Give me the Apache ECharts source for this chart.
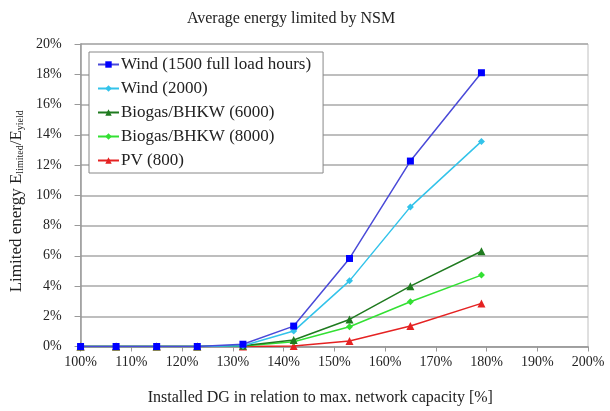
<!DOCTYPE html>
<html>
<head>
<meta charset="utf-8">
<script src="https://cdn.jsdelivr.net/npm/echarts@6/dist/echarts.min.js"></script>
<style>html,body{margin:0;padding:0;background:#fff}#c{width:610px;height:411px}</style>
</head>
<body>
<div id="c"></div>
<script>
var xValues = [100, 107, 115, 123, 132, 142, 153, 165, 179];
var seriesNames = ['Wind (1500 full load hours)', 'Wind (2000)', 'Biogas/BHKW (6000)', 'Biogas/BHKW (8000)', 'PV (800)'];
var wind1500 = [0, 0, 0, 0, 0.15, 1.35, 5.82, 12.26, 18.1];
var wind2000 = [0, 0, 0, 0, 0.05, 1.02, 4.34, 9.23, 13.56];
var biogas6000 = [0, 0, 0, 0, 0.05, 0.43, 1.79, 3.99, 6.3];
var biogas8000 = [0, 0, 0, 0, 0.03, 0.32, 1.31, 2.96, 4.72];
var pv800 = [0, 0, 0, 0, 0, 0.03, 0.36, 1.35, 2.85];
var xTicks = [100, 110, 120, 130, 140, 150, 160, 170, 180, 190, 200];
var yTicks = [0, 2, 4, 6, 8, 10, 12, 14, 16, 18, 20];

var allValues = [wind1500, wind2000, biogas6000, biogas8000, pv800];
var lineColors = ['#4a4ad8', '#33c3ea', '#1f7a1f', '#33e033', '#e52222'];
var markColors = ['#0000ff', '#33c3ea', '#1f7a1f', '#33e033', '#e52222'];
var symbols = ['rect', 'diamond', 'triangle', 'diamond', 'triangle'];
var symSizes = [7, 7, 8, 7, 8];

function pairs(vals) {
  return xValues.map(function (x, i) { return [x, vals[i]]; });
}

var series = allValues.map(function (vals, i) {
  return {
    name: seriesNames[i],
    type: 'line',
    data: pairs(vals),
    symbol: symbols[i],
    symbolSize: symSizes[i],
    showAllSymbol: true,
    lineStyle: { color: lineColors[i], width: 1.5 },
    itemStyle: { color: markColors[i] },
    z: 10 - i
  };
});

var font = '"Liberation Serif", "DejaVu Serif", serif';
var chart = echarts.init(document.getElementById('c'), null, { renderer: 'canvas' });
chart.setOption({
  animation: false,
  backgroundColor: '#fff',
  textStyle: { fontFamily: font },
  title: {
    text: 'Average energy limited by NSM',
    left: 286, top: 6,
    textAlign: 'center',
    textStyle: { fontFamily: font, fontSize: 16, fontWeight: 'normal', color: '#222' }
  },
  legend: {
    orient: 'vertical',
    left: 89, top: 52,
    data: seriesNames,
    itemWidth: 21, itemHeight: 8,
    itemGap: 7,
    padding: [4, 12, 4, 8],
    borderColor: '#888', borderWidth: 1,
    backgroundColor: '#fff',
    textStyle: { fontFamily: font, fontSize: 17, color: '#222', padding: [0, 0, 0, -3] }
  },
  grid: {
    left: 79.5, right: 22, top: 44, bottom: 64.5,
    show: true, borderColor: '#c0c0c0', borderWidth: 1, backgroundColor: '#fff'
  },
  xAxis: {
    type: 'value',
    min: 100, max: 200, interval: 10,
    name: 'Installed DG in relation to max. network capacity [%]',
    nameLocation: 'middle', nameGap: 43,
    nameTextStyle: { fontFamily: font, fontSize: 16, color: '#222', padding: [0, 28, 0, 0] },
    axisLine: { show: true, lineStyle: { color: '#999', width: 1.5 } },
    axisTick: { show: true, length: 5, lineStyle: { color: '#999' } },
    splitLine: { show: false },
    axisLabel: {
      margin: 9, fontFamily: font, fontSize: 14, color: '#222',
      formatter: function (v) { return xTicks.indexOf(v) >= 0 ? v + '%' : ''; }
    }
  },
  yAxis: {
    type: 'value',
    min: 0, max: 20, interval: 2,
    name: '{n|Limited energy E}{s|limited}{n|/E}{s|yield}',
    nameLocation: 'middle', nameGap: 44, nameRotate: 90,
    nameTextStyle: {
      fontFamily: font, color: '#222', padding: [0, 12, 0, 0],
      rich: {
        n: { fontFamily: font, fontSize: 17, color: '#222', lineHeight: 20, verticalAlign: 'bottom' },
        s: { fontFamily: font, fontSize: 10, color: '#222', lineHeight: 20, verticalAlign: 'bottom' }
      }
    },
    axisLine: { show: true, lineStyle: { color: '#999', width: 1.5 } },
    axisTick: { show: true, length: 6, lineStyle: { color: '#999' } },
    splitLine: { show: true, lineStyle: { color: '#a8a8a8', width: 1.5 } },
    axisLabel: {
      margin: 19, fontFamily: font, fontSize: 14, color: '#222',
      formatter: function (v) { return yTicks.indexOf(v) >= 0 ? v + '%' : ''; }
    }
  },
  series: series
});
</script>
</body>
</html>
